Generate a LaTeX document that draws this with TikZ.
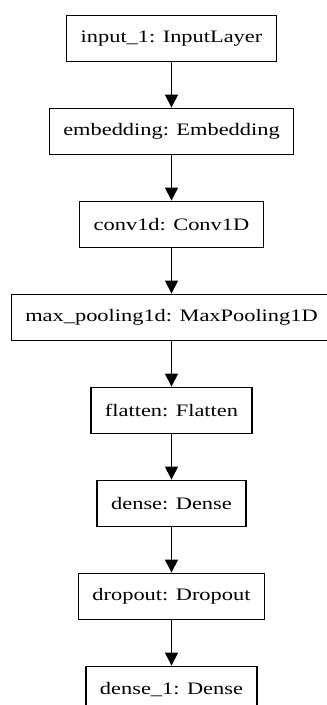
\documentclass[tikz,border=0pt]{standalone}
\usepackage{fontspec}
\setmainfont[FakeStretch=1.28]{Liberation Serif}
\usetikzlibrary{arrows.meta,positioning}

\begin{document}
\begin{tikzpicture}[x=1pt,y=1pt,node distance=45.1pt,line width=1.4pt,
	layer/.style={draw,minimum height=46.5pt,inner xsep=14pt,font=\fontsize{17.5}{20}\selectfont},
	>={Triangle[length=13pt,width=13pt]}]
	\useasboundingbox (0,0) rectangle (327,-705);
	\clip (0,0) rectangle (327,-705);

	\draw[every node/.style={layer}]
	(171.5,-38.5) node (input) {input\_1: InputLayer}
	node[below=of input] (embed) {embedding: Embedding}
	node[below=of embed] (conv) {conv1d: Conv1D}
	node[below=of conv] (pool) {max\_pooling1d: MaxPooling1D}
	node[below=of pool] (flat) {flatten: Flatten}
	node[below=of flat] (dense) {dense: Dense}
	node[below=of dense] (drop) {dropout: Dropout}
	node[below=of drop] (out) {dense\_1: Dense};

	\draw[->] (input) to (embed);
	\draw[->] (embed) to (conv);
	\draw[->] (conv) to (pool);
	\draw[->] (pool) to (flat);
	\draw[->] (flat) to (dense);
	\draw[->] (dense) to (drop);
	\draw[->] (drop) to (out);

\end{tikzpicture}
\end{document}
